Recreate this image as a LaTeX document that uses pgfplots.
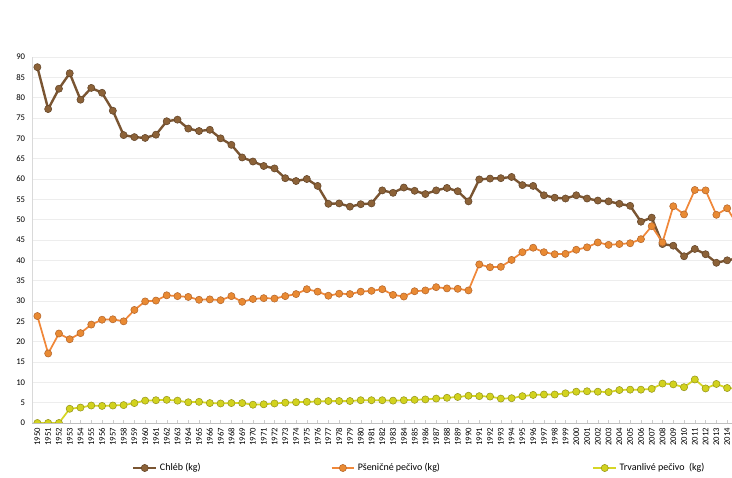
\documentclass[border=0pt]{standalone}
\usepackage{fontspec}
\setmainfont{Carlito}
\usepackage{pgfplots}
\pgfplotsset{compat=1.18}
\definecolor{chleb}{HTML}{7A5532}
\definecolor{chlebball}{HTML}{8C6238}
\definecolor{psen}{HTML}{F0883A}
\definecolor{psenball}{HTML}{E98A33}
\definecolor{trv}{HTML}{D6D626}
\definecolor{trvball}{HTML}{D2D21E}
\definecolor{gridc}{HTML}{EDEDED}
\begin{document}
\begin{tikzpicture}
\useasboundingbox (0,0) rectangle (549pt,358.5pt);
\begin{axis}[
  at={(24pt,41.25pt)}, anchor=south west,
  scale only axis, width=525pt, height=274.5pt,
  xmin=1949.5, xmax=2014.45, ymin=0, ymax=90,
  clip=true, clip marker paths=true,
  xtick={1950,1951,...,2014},
  ytick={0,5,...,90},
  /pgf/number format/1000 sep={},
  /pgf/number format/assume math mode=true,
  xticklabel style={rotate=90, anchor=east, font=\fontsize{6.5}{7}\selectfont, inner sep=1pt},
  xticklabel shift={2.5pt},
  yticklabel style={font=\fontsize{6.5}{7}\selectfont, inner sep=1pt, xshift=-4pt},
  ymajorgrids, major grid style={gridc, line width=0.6pt},
  axis x line*=bottom, axis y line*=left,
  x axis line style={gray!50, -}, y axis line style={gray!30, -},
  major tick length=2pt, tick style={gray!40},
  ytick style={draw=none},
  legend columns=3,
  legend style={at={(0.137,-0.123)}, anchor=west, draw=none, fill=none,
    font=\fontsize{7.5}{8}\selectfont,
    /tikz/every even column/.append style={column sep=0pt}},
  legend cell align=left,
]
\addplot[chleb, line width=1.8pt, mark=*, mark size=2.7pt, mark options={fill=chlebball, draw=chleb!80!black, line width=0.4pt}] coordinates {
(1950,87.5)(1951,77.2)(1952,82.2)(1953,86.0)(1954,79.5)(1955,82.4)(1956,81.2)(1957,76.8)(1958,70.8)(1959,70.3)
(1960,70.1)(1961,70.9)(1962,74.2)(1963,74.6)(1964,72.4)(1965,71.8)(1966,72.1)(1967,70.0)(1968,68.4)(1969,65.3)
(1970,64.3)(1971,63.2)(1972,62.6)(1973,60.2)(1974,59.5)(1975,60.0)(1976,58.3)(1977,53.9)(1978,54.0)(1979,53.2)
(1980,53.8)(1981,54.0)(1982,57.2)(1983,56.6)(1984,57.9)(1985,57.1)(1986,56.3)(1987,57.2)(1988,57.8)(1989,57.0)
(1990,54.5)(1991,59.9)(1992,60.1)(1993,60.2)(1994,60.5)(1995,58.5)(1996,58.3)(1997,56.0)(1998,55.4)(1999,55.2)
(2000,56.0)(2001,55.2)(2002,54.7)(2003,54.5)(2004,53.9)(2005,53.4)(2006,49.5)(2007,50.5)(2008,44.0)(2009,43.6)
(2010,41.0)(2011,42.8)(2012,41.5)(2013,39.4)(2014,40.0)(2015,40.5)
};
\addlegendentry{\makebox[126pt][l]{Chléb (kg)}}
\addplot[psen, line width=1.3pt, mark=*, mark size=2.7pt, mark options={fill=psenball, draw=psen!75!black, line width=0.4pt}] coordinates {
(1950,26.3)(1951,17.1)(1952,22.0)(1953,20.6)(1954,22.1)(1955,24.2)(1956,25.4)(1957,25.5)(1958,25.0)(1959,27.8)
(1960,29.9)(1961,30.1)(1962,31.4)(1963,31.2)(1964,31.0)(1965,30.3)(1966,30.4)(1967,30.2)(1968,31.2)(1969,29.8)
(1970,30.5)(1971,30.7)(1972,30.6)(1973,31.2)(1974,31.7)(1975,32.9)(1976,32.3)(1977,31.3)(1978,31.8)(1979,31.7)
(1980,32.3)(1981,32.5)(1982,32.9)(1983,31.5)(1984,31.1)(1985,32.4)(1986,32.6)(1987,33.4)(1988,33.1)(1989,33.0)
(1990,32.6)(1991,39.0)(1992,38.3)(1993,38.4)(1994,40.1)(1995,42.0)(1996,43.1)(1997,42.0)(1998,41.5)(1999,41.6)
(2000,42.6)(2001,43.2)(2002,44.4)(2003,43.8)(2004,44.0)(2005,44.2)(2006,45.2)(2007,48.4)(2008,44.4)(2009,53.3)
(2010,51.3)(2011,57.3)(2012,57.2)(2013,51.2)(2014,52.8)(2015,48.5)
};
\addlegendentry{\makebox[174pt][l]{Pšeničné pečivo (kg)}}
\addplot[trv, line width=1.3pt, mark=*, mark size=2.7pt, mark options={fill=trvball, draw=trv!70!black, line width=0.4pt}] coordinates {
(1950,0.0)(1951,0.0)(1952,0.0)(1953,3.5)(1954,3.8)(1955,4.3)(1956,4.2)(1957,4.3)(1958,4.4)(1959,4.9)
(1960,5.5)(1961,5.6)(1962,5.7)(1963,5.5)(1964,5.1)(1965,5.2)(1966,4.9)(1967,4.8)(1968,4.9)(1969,4.9)
(1970,4.5)(1971,4.6)(1972,4.8)(1973,5.0)(1974,5.1)(1975,5.2)(1976,5.3)(1977,5.4)(1978,5.4)(1979,5.4)
(1980,5.6)(1981,5.6)(1982,5.6)(1983,5.5)(1984,5.6)(1985,5.7)(1986,5.8)(1987,6.0)(1988,6.2)(1989,6.4)
(1990,6.7)(1991,6.6)(1992,6.5)(1993,6.0)(1994,6.1)(1995,6.6)(1996,6.9)(1997,7.0)(1998,7.0)(1999,7.3)
(2000,7.7)(2001,7.8)(2002,7.7)(2003,7.6)(2004,8.1)(2005,8.2)(2006,8.2)(2007,8.4)(2008,9.7)(2009,9.5)
(2010,8.8)(2011,10.7)(2012,8.5)(2013,9.6)(2014,8.6)(2015,8.4)
};
\addlegendentry{Trvanlivé pečivo\ \ (kg)}
\end{axis}
\end{tikzpicture}
\end{document}
